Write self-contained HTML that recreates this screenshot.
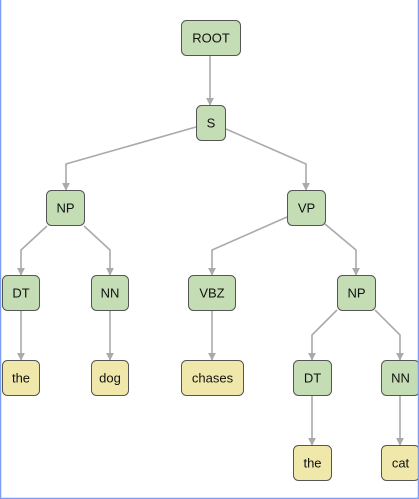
<!DOCTYPE html>
<html><head><style>
html,body{margin:0;padding:0;background:#fff;}
svg{display:block;}
text{font-family:"Liberation Sans",sans-serif;font-size:13px;fill:#111;text-anchor:middle;dominant-baseline:central;}
.n{fill:#c4ddb5;stroke:#555;stroke-width:1;}
.l{fill:#f0e8ab;stroke:#555;stroke-width:1;}
.e{fill:none;stroke:#aaa;stroke-width:1.6;}
</style></head><body>
<svg width="419" height="499" viewBox="0 0 419 499">
<defs><marker id="a" viewBox="0 0 10 10" refX="9" refY="5" markerWidth="5" markerHeight="5" orient="auto"><path d="M0,0L10,5L0,10z" fill="#aaa"/></marker></defs>
<g class="e" marker-end="url(#a)">
<path d="M210,55V105"/>
<path d="M196,127L66,164V190"/>
<path d="M226,129L306,164V190"/>
<path d="M47,226L21,250V275"/>
<path d="M84,226L110,250V275"/>
<path d="M287,217L212,250V275"/>
<path d="M325,224L356,250V275"/>
<path d="M337,310L312,335V360"/>
<path d="M375,310L400,335V360"/>
<path d="M21,310V360"/>
<path d="M110,310V360"/>
<path d="M212,310V360"/>
<path d="M312,395V445"/>
<path d="M400,395V445"/>
</g>
<rect class="n" x="181.5" y="20.5" width="59" height="35" rx="5"/><text x="211" y="38">ROOT</text>
<rect class="n" x="196.5" y="105.5" width="29" height="35" rx="5"/><text x="211" y="123">S</text>
<rect class="n" x="46.5" y="190.5" width="38" height="35" rx="5"/><text x="65.5" y="208">NP</text>
<rect class="n" x="287.5" y="190.5" width="38" height="35" rx="5"/><text x="306.5" y="208">VP</text>
<rect class="n" x="2.5" y="275.5" width="37" height="35" rx="5"/><text x="21" y="293">DT</text>
<rect class="n" x="91.5" y="275.5" width="37" height="35" rx="5"/><text x="110" y="293">NN</text>
<rect class="n" x="188.5" y="275.5" width="47" height="35" rx="5"/><text x="212" y="293">VBZ</text>
<rect class="n" x="337.5" y="275.5" width="38" height="35" rx="5"/><text x="356.5" y="293">NP</text>
<rect class="l" x="2.5" y="360.5" width="37" height="35" rx="5"/><text x="21" y="378">the</text>
<rect class="l" x="91.5" y="360.5" width="37" height="35" rx="5"/><text x="110" y="378">dog</text>
<rect class="l" x="181.5" y="360.5" width="62" height="35" rx="5"/><text x="212.5" y="378">chases</text>
<rect class="n" x="293.5" y="360.5" width="38" height="35" rx="5"/><text x="312.5" y="378">DT</text>
<rect class="n" x="381.5" y="360.5" width="38" height="35" rx="5"/><text x="400.5" y="378">NN</text>
<rect class="l" x="293.5" y="445.5" width="38" height="35" rx="5"/><text x="312.5" y="463">the</text>
<rect class="l" x="381.5" y="445.5" width="38" height="35" rx="5"/><text x="400.5" y="463">cat</text>
<line x1="0.5" y1="0" x2="0.5" y2="499" stroke="#7b9ef2" stroke-width="1.5"/>
<line x1="418.5" y1="0" x2="418.5" y2="499" stroke="#7b9ef2" stroke-width="1.5"/>
<line x1="0" y1="498.5" x2="419" y2="498.5" stroke="#7b9ef2" stroke-width="1.5"/>
</svg>
</body></html>
